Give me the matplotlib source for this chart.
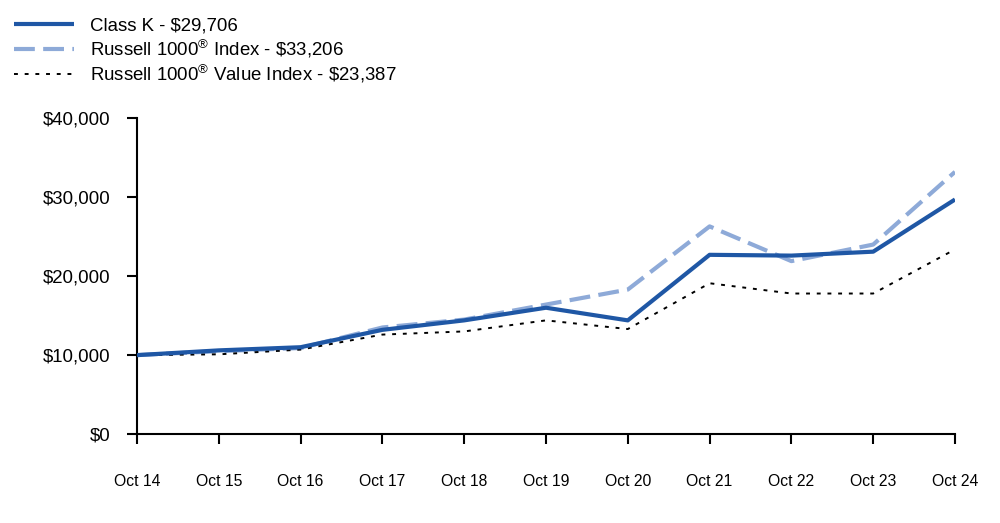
import matplotlib.pyplot as plt
from matplotlib.ticker import FuncFormatter

plt.rcParams['font.family'] = ['Liberation Sans', 'DejaVu Sans']
plt.rcParams['mathtext.fontset'] = 'custom'
plt.rcParams['mathtext.rm'] = 'Liberation Sans'
plt.rcParams['mathtext.it'] = 'Liberation Sans'

# data
years = ['Oct 14', 'Oct 15', 'Oct 16', 'Oct 17', 'Oct 18', 'Oct 19',
         'Oct 20', 'Oct 21', 'Oct 22', 'Oct 23', 'Oct 24']
class_k = [10000, 10600, 11000, 13200, 14400, 16000, 14400, 22700, 22600, 23100, 29706]
r1000 = [10000, 10500, 10900, 13500, 14500, 16400, 18300, 26300, 21900, 24000, 33206]
r1000_value = [10000, 10100, 10700, 12600, 13000, 14400, 13300, 19100, 17800, 17800, 23387]

labels = ['Class K - \\$29,706',
          'Russell 1000$^{\\mathrm{\u00ae}}$ Index - \\$33,206',
          'Russell 1000$^{\\mathrm{\u00ae}}$ Value Index - \\$23,387']

fig = plt.figure(figsize=(10, 5.23), dpi=100)
ax = fig.add_axes([0.137, 0.170, 0.818, 0.604])

x = range(len(years))
l1, = ax.plot(x, class_k, color='#1f57a5', linewidth=3, solid_capstyle='butt', zorder=3)
l2, = ax.plot(x, r1000, color='#8eaad8', linewidth=3, dashes=(5, 2))
l3, = ax.plot(x, r1000_value, color='black', linewidth=1.4, dashes=(2, 3.5))

ax.set_xlim(0, len(years) - 1)
ax.set_ylim(0, 40000)
ax.set_yticks([0, 10000, 20000, 30000, 40000])
ax.yaxis.set_major_formatter(FuncFormatter(lambda v, p: '${:,.0f}'.format(v)))
ax.set_xticks(list(x))
ax.set_xticklabels(years)

for s in ['top', 'right']:
    ax.spines[s].set_visible(False)
for s in ['left', 'bottom']:
    ax.spines[s].set_linewidth(1.5)
    ax.spines[s].set_color('black')

ax.tick_params(axis='y', length=7, width=1.5, labelsize=13.4, pad=12)
ax.tick_params(axis='x', length=7, width=1.5, labelsize=11.3, pad=22)

fig.legend([l1, l2, l3], labels, loc='upper left', bbox_to_anchor=(0.014, 0.967),
           frameon=False, fontsize=13.4, handlelength=3.2, handletextpad=0.9,
           labelspacing=0.18, borderpad=0, borderaxespad=0)

fig.savefig('out.png', dpi=100)
